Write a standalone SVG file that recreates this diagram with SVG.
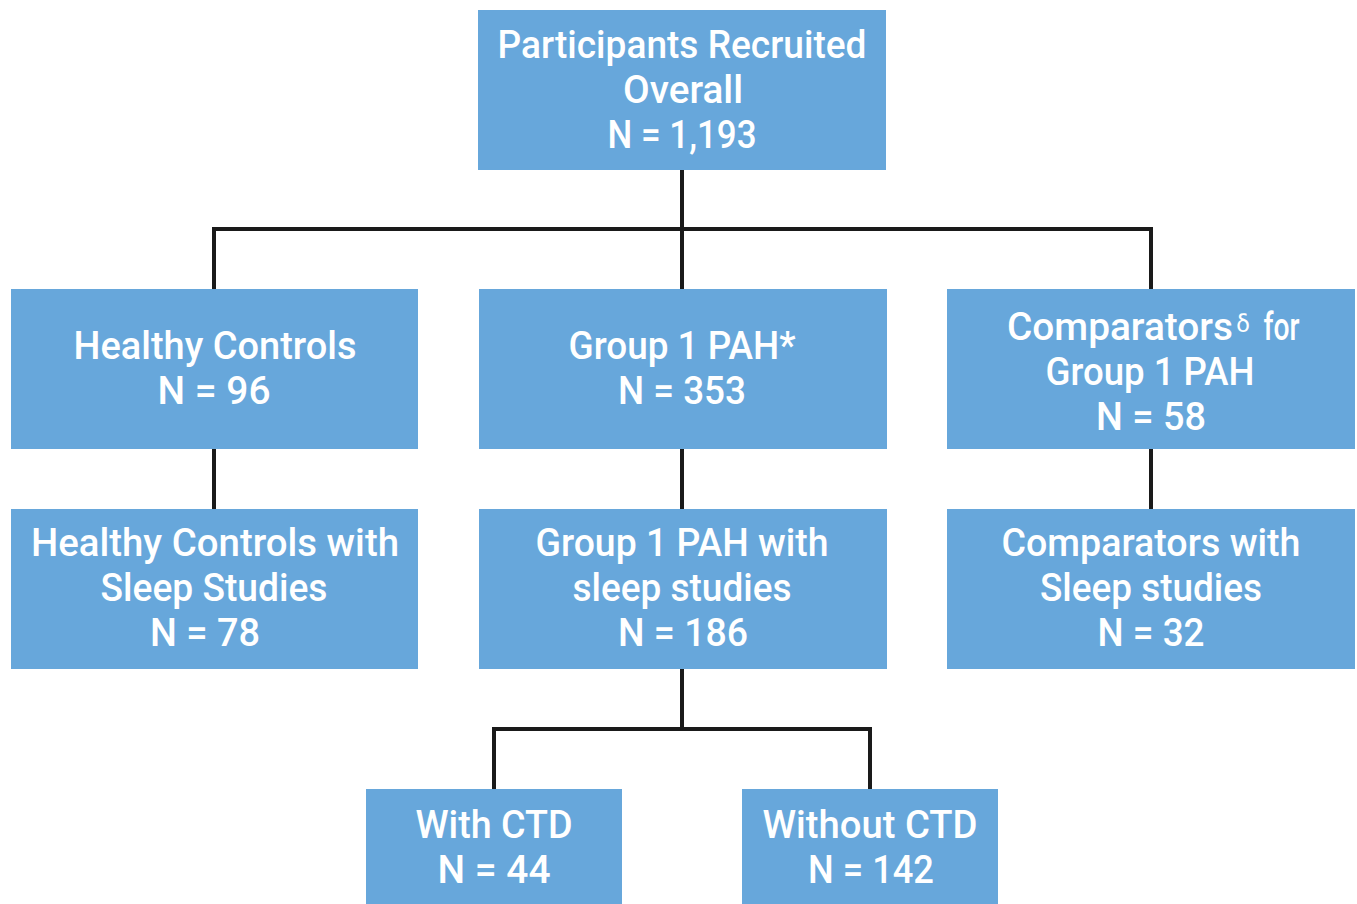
<svg xmlns="http://www.w3.org/2000/svg" width="1357" height="904" viewBox="0 0 1357 904">
<style>
.box{fill:#67a7db}
.t{font-family:Roboto,"Liberation Sans",sans-serif;font-size:38px;font-weight:500;fill:#ffffff;text-anchor:middle}
.c{fill:none;stroke:#1a1a1a;stroke-width:4;stroke-linecap:square;stroke-linejoin:miter}
</style>
<rect width="1357" height="904" fill="#ffffff"/>
<g id="connectors">
<path class="c" d="M682 170V229M214 289V229H1151V289M682 229V289"/>
<path class="c" d="M214 449V509M682 449V509M1151 449V509"/>
<path class="c" d="M682 669V729M494 789V729H870V789"/>
</g>
<g id="overall">
<rect class="box" x="478" y="10" width="408" height="160"/>
<text class="t" x="682" y="58" textLength="369" lengthAdjust="spacingAndGlyphs">Participants Recruited</text>
<text class="t" x="683" y="103" textLength="120" lengthAdjust="spacingAndGlyphs">Overall</text>
<text class="t" x="682" y="148" textLength="149" lengthAdjust="spacingAndGlyphs">N = 1,193</text>
</g>
<g id="healthy">
<rect class="box" x="11" y="289" width="407" height="160"/>
<text class="t" x="215" y="359" textLength="283" lengthAdjust="spacingAndGlyphs">Healthy Controls</text>
<text class="t" x="214" y="404" textLength="113" lengthAdjust="spacingAndGlyphs">N = 96</text>
</g>
<g id="pah">
<rect class="box" x="479" y="289" width="408" height="160"/>
<text class="t" x="682" y="359" textLength="227" lengthAdjust="spacingAndGlyphs">Group 1 PAH*</text>
<text class="t" x="682" y="404" textLength="128" lengthAdjust="spacingAndGlyphs">N = 353</text>
</g>
<g id="comparators">
<rect class="box" x="947" y="289" width="408" height="160"/>
<text class="t" x="1120" y="340" textLength="226" lengthAdjust="spacingAndGlyphs">Comparators</text>
<text class="t" x="1243" y="332" style="font-size:24px;font-weight:400">δ</text>
<text class="t" x="1281.5" y="340" textLength="36" lengthAdjust="spacingAndGlyphs">for</text>
<text class="t" x="1150" y="385" textLength="209" lengthAdjust="spacingAndGlyphs">Group 1 PAH</text>
<text class="t" x="1151" y="430" textLength="110" lengthAdjust="spacingAndGlyphs">N = 58</text>
</g>
<g id="healthy-sleep">
<rect class="box" x="11" y="509" width="407" height="160"/>
<text class="t" x="215" y="556" textLength="368" lengthAdjust="spacingAndGlyphs">Healthy Controls with</text>
<text class="t" x="214" y="601" textLength="227" lengthAdjust="spacingAndGlyphs">Sleep Studies</text>
<text class="t" x="205" y="646" textLength="110" lengthAdjust="spacingAndGlyphs">N = 78</text>
</g>
<g id="pah-sleep">
<rect class="box" x="479" y="509" width="408" height="160"/>
<text class="t" x="682" y="556" textLength="293" lengthAdjust="spacingAndGlyphs">Group 1 PAH with</text>
<text class="t" x="682" y="601" textLength="219" lengthAdjust="spacingAndGlyphs">sleep studies</text>
<text class="t" x="683" y="646" textLength="130" lengthAdjust="spacingAndGlyphs">N = 186</text>
</g>
<g id="comparators-sleep">
<rect class="box" x="947" y="509" width="408" height="160"/>
<text class="t" x="1151" y="556" textLength="299" lengthAdjust="spacingAndGlyphs">Comparators with</text>
<text class="t" x="1151" y="601" textLength="222" lengthAdjust="spacingAndGlyphs">Sleep studies</text>
<text class="t" x="1151" y="646" textLength="107" lengthAdjust="spacingAndGlyphs">N = 32</text>
</g>
<g id="with-ctd">
<rect class="box" x="366" y="789" width="256" height="115"/>
<text class="t" x="494" y="838" textLength="157" lengthAdjust="spacingAndGlyphs">With CTD</text>
<text class="t" x="494" y="883" textLength="113" lengthAdjust="spacingAndGlyphs">N = 44</text>
</g>
<g id="without-ctd">
<rect class="box" x="742" y="789" width="256" height="115"/>
<text class="t" x="870" y="838" textLength="215" lengthAdjust="spacingAndGlyphs">Without CTD</text>
<text class="t" x="871" y="883" textLength="126" lengthAdjust="spacingAndGlyphs">N = 142</text>
</g>
</svg>
